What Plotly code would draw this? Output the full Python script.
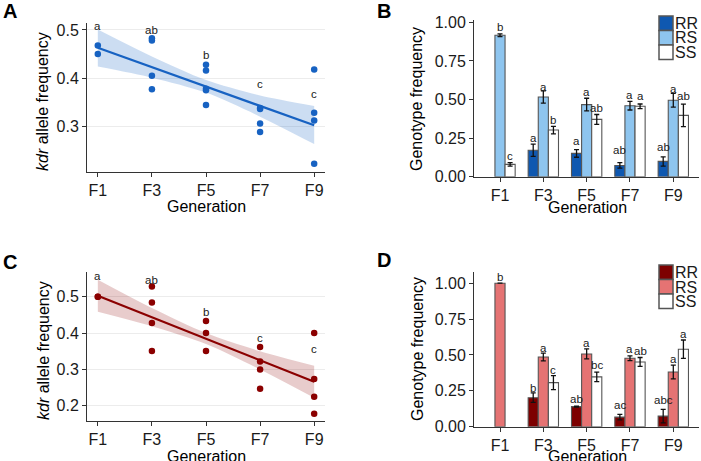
import plotly.graph_objects as go

W, H = 701, 461
FONT = "Liberation Sans, Arial, Helvetica, sans-serif"

# ---------------- data ----------------
gens = ["F1", "F3", "F5", "F7", "F9"]
gen_num = [1, 3, 5, 7, 9]
genotypes = ["RR", "RS", "SS"]

# Panel A: kdr allele frequency (replicates per generation)
a_gen = [1, 1, 3, 3, 3, 3, 5, 5, 5, 5, 5, 7, 7, 7, 7, 9, 9, 9, 9]
a_freq = [0.468, 0.450, 0.483, 0.478, 0.405, 0.377, 0.428, 0.416, 0.378, 0.375, 0.344,
          0.338, 0.336, 0.306, 0.288, 0.418, 0.328, 0.312, 0.222]
a_fit = [0.463, 0.423, 0.383, 0.342, 0.302]
a_lo = [0.424, 0.401, 0.370, 0.320, 0.263]
a_hi = [0.501, 0.445, 0.396, 0.364, 0.342]
a_letters = ["a", "ab", "b", "c", "c"]
a_letter_y = [0.508, 0.499, 0.449, 0.388, 0.368]

# Panel C
c_gen = [1, 1, 3, 3, 3, 3, 5, 5, 5, 7, 7, 7, 7, 9, 9, 9, 9]
c_freq = [0.500, 0.500, 0.528, 0.484, 0.428, 0.351, 0.433, 0.400, 0.351,
          0.362, 0.322, 0.300, 0.247, 0.400, 0.274, 0.225, 0.178]
c_fit = [0.503, 0.444, 0.385, 0.325, 0.266]
c_lo = [0.459, 0.419, 0.370, 0.300, 0.222]
c_hi = [0.547, 0.469, 0.400, 0.350, 0.310]
c_letters = ["a", "ab", "b", "c", "c"]
c_letter_y = [0.557, 0.546, 0.459, 0.387, 0.357]

# Panel B: genotype frequencies
b_mean = {
    "RR": [None, 0.171, 0.151, 0.073, 0.099],
    "RS": [0.916, 0.516, 0.467, 0.460, 0.495],
    "SS": [0.080, 0.302, 0.371, 0.456, 0.397],
}
b_err = {
    "RR": [None, 0.040, 0.025, 0.018, 0.030],
    "RS": [0.009, 0.040, 0.041, 0.028, 0.045],
    "SS": [0.011, 0.024, 0.032, 0.015, 0.073],
}
b_letters = {
    "RR": [None, "a", "a", "ab", "ab"],
    "RS": ["b", "a", "a", "a", "a"],
    "SS": ["c", "b", "ab", "a", "ab"],
}
b_letter_y = {
    "RR": [None, 0.253, 0.231, 0.173, 0.194],
    "RS": [0.968, 0.583, 0.546, 0.531, 0.570],
    "SS": [0.134, 0.365, 0.443, 0.523, 0.523],
}

# Panel D
d_mean = {
    "RR": [None, 0.202, 0.140, 0.067, 0.074],
    "RS": [1.000, 0.486, 0.507, 0.477, 0.381],
    "SS": [None, 0.307, 0.347, 0.451, 0.540],
}
d_err = {
    "RR": [None, 0.033, 0.004, 0.019, 0.047],
    "RS": [0.0, 0.027, 0.035, 0.016, 0.048],
    "SS": [None, 0.049, 0.033, 0.031, 0.064],
}
d_letters = {
    "RR": [None, "b", "ab", "ac", "abc"],
    "RS": ["b", "a", "a", "a", "a"],
    "SS": [None, "c", "bc", "ab", "a"],
}
d_letter_y = {
    "RR": [None, 0.272, 0.193, 0.149, 0.186],
    "RS": [1.042, 0.549, 0.584, 0.540, 0.474],
    "SS": [None, 0.393, 0.433, 0.530, 0.647],
}

# ---------------- styles ----------------
blue = "#1762c2"
blue_band = "rgba(23,98,194,0.22)"
red = "#8b0000"
red_band = "rgba(139,0,0,0.20)"
b_colors = {"RR": "#0f58b0", "RS": "#8ec5ef", "SS": "#ffffff"}
d_colors = {"RR": "#7d0000", "RS": "#e57373", "SS": "#ffffff"}
outline = "#555555"
txt = "#1a1a1a"


def px(x):
    return x / W


def py(y):
    return 1 - y / H


fig = go.Figure()

# ---- scatter panels ----
def add_scatter_panel(xa, ya, gx, gy, fit, lo, hi, col, band):
    fig.add_trace(go.Scatter(x=gen_num, y=lo, mode="lines",
                             line=dict(width=0, shape="spline", smoothing=0.8),
                             hoverinfo="skip", showlegend=False, xaxis=xa, yaxis=ya))
    fig.add_trace(go.Scatter(x=gen_num, y=hi, mode="lines", fill="tonexty", fillcolor=band,
                             line=dict(width=0, shape="spline", smoothing=0.8),
                             hoverinfo="skip", showlegend=False, xaxis=xa, yaxis=ya))
    fig.add_trace(go.Scatter(x=gen_num, y=fit, mode="lines", line=dict(color=col, width=2.2),
                             showlegend=False, xaxis=xa, yaxis=ya))
    fig.add_trace(go.Scatter(x=gx, y=gy, mode="markers", marker=dict(color=col, size=6.5),
                             showlegend=False, xaxis=xa, yaxis=ya))


add_scatter_panel("x", "y", a_gen, a_freq, a_fit, a_lo, a_hi, blue, blue_band)
add_scatter_panel("x3", "y3", c_gen, c_freq, c_fit, c_lo, c_hi, red, red_band)

annotations = []
for g, lab, yy in zip(gen_num, a_letters, a_letter_y):
    annotations.append(dict(x=g, y=yy, xref="x", yref="y", text=lab, showarrow=False,
                            font=dict(size=11.5, color=txt, family=FONT)))
for g, lab, yy in zip(gen_num, c_letters, c_letter_y):
    annotations.append(dict(x=g, y=yy, xref="x3", yref="y3", text=lab, showarrow=False,
                            font=dict(size=11.5, color=txt, family=FONT)))

# ---- bar panels ----
offsets = {"RR": -0.7 / 3, "RS": 0.0, "SS": 0.7 / 3}


def add_bar_panel(xa, ya, means, errs, colors, letters, letter_y):
    for gt in genotypes:
        fig.add_trace(go.Bar(x=gens, y=means[gt], name=gt,
                             marker=dict(color=colors[gt], line=dict(color=outline, width=1.1)),
                             error_y=dict(type="data", array=errs[gt], color="#111111",
                                          thickness=1.3, width=2.5),
                             showlegend=False, xaxis=xa, yaxis=ya))
        for i, (lab, yy) in enumerate(zip(letters[gt], letter_y[gt])):
            if lab is None:
                continue
            annotations.append(dict(x=i + offsets[gt], y=yy, xref=xa, yref=ya, text=lab,
                                    showarrow=False,
                                    font=dict(size=11.5, color=txt, family=FONT)))


add_bar_panel("x2", "y2", b_mean, b_err, b_colors, b_letters, b_letter_y)
add_bar_panel("x4", "y4", d_mean, d_err, d_colors, d_letters, d_letter_y)

# ---- custom legends (boxes + labels) ----
shapes = []


def add_legend(top, colors):
    y0 = top
    for gt in genotypes:
        shapes.append(dict(type="rect", xref="paper", yref="paper",
                           x0=px(659), x1=px(673), y0=py(y0 + 14.5), y1=py(y0),
                           fillcolor=colors[gt], line=dict(color=outline, width=1.5)))
        annotations.append(dict(x=px(673), y=py(y0 + 7.5), xref="paper", yref="paper", text=gt,
                                showarrow=False, xanchor="left", yanchor="middle",
                                font=dict(size=16, color=txt, family=FONT)))
        y0 += 14.5


add_legend(16, b_colors)
add_legend(265, d_colors)

# ---- titles / panel letters ----
def ann_text(x, y, text, size, angle=0, bold=False):
    annotations.append(dict(x=px(x), y=py(y), xref="paper", yref="paper",
                            text=f"<b>{text}</b>" if bold else text, showarrow=False,
                            textangle=angle, xanchor="center", yanchor="middle",
                            font=dict(size=size, color="#000000", family=FONT)))


ann_text(10, 11, "A", 20, bold=True)
ann_text(384, 11, "B", 20, bold=True)
ann_text(10, 262, "C", 20, bold=True)
ann_text(384, 260, "D", 20, bold=True)

ann_text(42, 102, "<i>kdr</i> allele frequency", 16, angle=-90)
ann_text(43, 351, "<i>kdr</i> allele frequency", 16, angle=-90)
ann_text(417, 99, "Genotype frequency", 16, angle=-90)
ann_text(417, 349, "Genotype frequency", 16, angle=-90)

ann_text(206, 206, "Generation", 16)
ann_text(206, 456, "Generation", 16)
ann_text(587, 207, "Generation", 16)
ann_text(587, 456, "Generation", 16)

# ---- axes ----
tickfont = dict(size=16, color=txt, family=FONT)
common = dict(showline=True, linecolor="#333333", linewidth=1, ticks="outside", ticklen=4,
              tickcolor="#333333", tickwidth=1, tickfont=tickfont, zeroline=False)

fig.update_layout(
    width=W, height=H, margin=dict(l=0, r=0, t=0, b=0, pad=0, autoexpand=False),
    paper_bgcolor="white", plot_bgcolor="white",
    barmode="group", bargap=0.3, bargroupgap=0,
    font=dict(family=FONT),
    xaxis=dict(domain=[px(87), px(325)], range=[0.6, 9.4], tickvals=gen_num, ticktext=gens,
               showgrid=False, anchor="y", **common),
    yaxis=dict(domain=[py(172), py(23)], range=[0.205, 0.5145], tickvals=[0.3, 0.4, 0.5],
               ticktext=["0.3", "0.4", "0.5"], showgrid=True, gridcolor="#ececec", gridwidth=1,
               anchor="x", **common),
    xaxis2=dict(domain=[px(474), px(699.3)], type="category", range=[-0.6, 4.6],
                showgrid=False, anchor="y2", **common),
    yaxis2=dict(domain=[py(176.7), py(20.3)], range=[0, 1.013],
                tickvals=[0, 0.25, 0.5, 0.75, 1.0], ticktext=["0.00", "0.25", "0.50", "0.75", "1.00"],
                showgrid=False, anchor="x2", **common),
    xaxis3=dict(domain=[px(87), px(325)], range=[0.6, 9.4], tickvals=gen_num, ticktext=gens,
                showgrid=False, anchor="y3", **common),
    yaxis3=dict(domain=[py(420.7), py(271.7)], range=[0.159, 0.569],
                tickvals=[0.2, 0.3, 0.4, 0.5], ticktext=["0.2", "0.3", "0.4", "0.5"],
                showgrid=True, gridcolor="#ececec", gridwidth=1, anchor="x3", **common),
    xaxis4=dict(domain=[px(474), px(699.3)], type="category", range=[-0.6, 4.6],
                showgrid=False, anchor="y4", **common),
    yaxis4=dict(domain=[py(426.7), py(271.7)], range=[0, 1.08],
                tickvals=[0, 0.25, 0.5, 0.75, 1.0], ticktext=["0.00", "0.25", "0.50", "0.75", "1.00"],
                showgrid=False, anchor="x4", **common),
    annotations=annotations,
    shapes=shapes,
    showlegend=False,
)

fig.write_html("out.html", config={"displayModeBar": False},
               post_script="document.body.style.margin='0px';document.body.style.padding='0px';"
                           "document.body.style.overflow='hidden';")
